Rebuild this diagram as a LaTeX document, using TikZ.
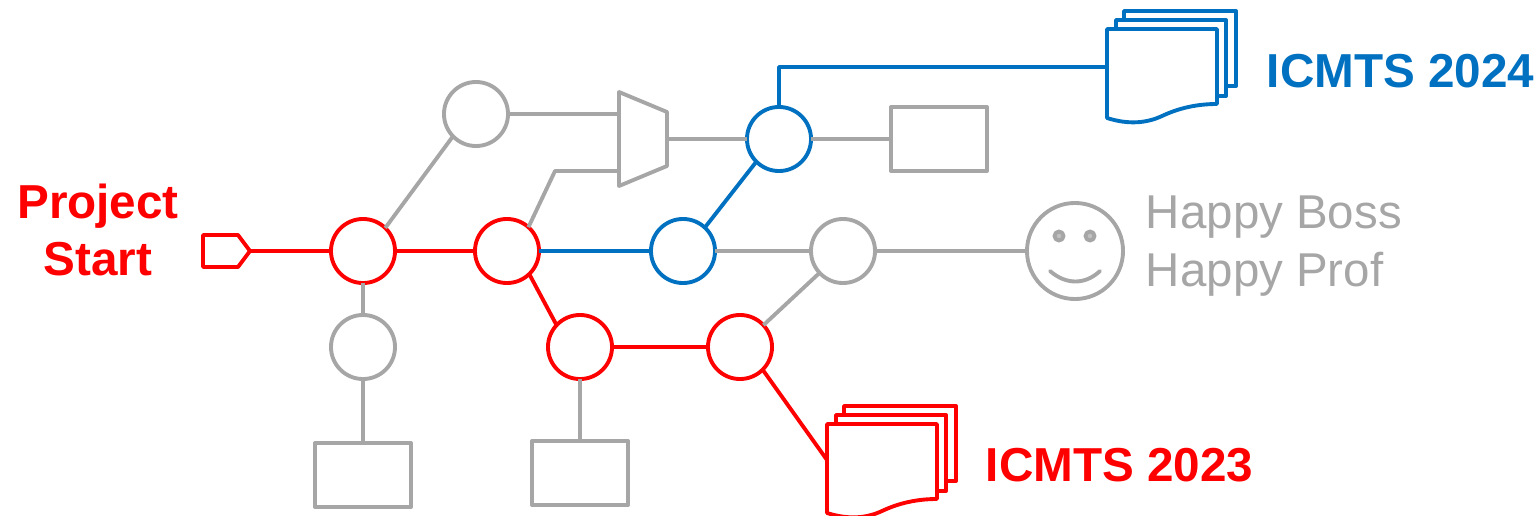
\documentclass[tikz,border=0pt]{standalone}
\usepackage{fontspec}
\setmainfont{Liberation Sans}
\usepackage{xcolor}
\definecolor{hwgray}{HTML}{A6A6A6}
\definecolor{hwblue}{HTML}{0070C0}
\definecolor{hwred}{HTML}{FF0000}
\tikzset{
	stage/.style={circle, draw, fill=white, minimum size=0.64cm, inner sep=0pt, outer sep=0pt},
	block/.style={rectangle, draw=hwgray, minimum width=0.96cm, minimum height=0.64cm, inner sep=0pt, outer sep=0pt},
	eye/.style={circle, draw=hwgray, fill=hwgray!70, minimum size=0.09cm, inner sep=0pt},
	caption/.style={font=\fontsize{13.5}{16.4}\selectfont, inner sep=0pt},
	boldcaption/.style={font=\fontsize{13.55}{16.4}\selectfont\bfseries, inner sep=0pt},
}
\newcommand{\paperstack}[3]{
	\begin{scope}[shift={(#2,#3)}, draw=#1, fill=white]
		\draw[fill=white] (17,-18) rectangle (129,57);
		\draw[fill=white] (9,-9) rectangle (119,67);
		\draw[fill=white] (0,0) -- (110,0) -- (110,75)
			.. controls (90,75) and (72,79) .. (55,87)
			.. controls (40,94) and (22,96) .. (0,89) -- cycle;
	\end{scope}
}

\begin{document}
\begin{tikzpicture}[x=0.01cm, y=-0.01cm, line width=1.1pt, line join=round]
	\useasboundingbox (0,0) rectangle (1540,515);

	% blocks on the grey paths
	\node[stage, draw=hwgray] (cache) at (476,114) {};
	\node[stage, draw=hwgray] (ldo) at (363,347) {};
	\node[stage, draw=hwgray] (merge) at (843,251) {};
	\node[block] (blocktop) at (939,139) {};
	\node[block] (blockleft) at (363,475) {};
	\node[block] (blockmid) at (580,473) {};

	% stages on the coloured paths
	\node[stage, draw=hwred] (first) at (363,251) {};
	\node[stage, draw=hwred] (second) at (507,251) {};
	\node[stage, draw=hwred] (lowleft) at (580,347) {};
	\node[stage, draw=hwred] (lowright) at (740,347) {};
	\node[stage, draw=hwblue] (upmid) at (683,251) {};
	\node[stage, draw=hwblue] (uptop) at (779,139) {};

	% start tag
	\draw[hwred] (203,235) -- (238,235) -- (250,251) -- (238,267) -- (203,267) -- cycle;
	\coordinate (tag) at (250,251);

	% mux
	\draw[hwgray] (619,92) -- (667,112) -- (667,166) -- (619,186) -- cycle;
	\coordinate (muxa) at (619,114);
	\coordinate (muxb) at (619,171);
	\coordinate (muxout) at (667,139);
	\coordinate (bend) at (555,171);

	% smiley
	\node[circle, draw=hwgray, minimum size=0.96cm, inner sep=0pt, outer sep=0pt] (smiley) at (1075,251) {};
	\node[eye] (eyeleft) at (1059,236) {};
	\node[eye] (eyeright) at (1090,236) {};
	\draw[hwgray, line cap=round] (1050,271) .. controls (1066,285) and (1085,285) .. (1100,271);

	% paper stacks
	\paperstack{hwblue}{1107}{29}
	\paperstack{hwred}{827}{424}
	\coordinate (bluein) at (1107,67);
	\coordinate (redin) at (827,460);
	\coordinate (blueup) at (779,67);

	% grey connectors
	\draw[hwgray] (first.46) -- (cache.224);
	\draw[hwgray] (first) -- (ldo);
	\draw[hwgray] (ldo) -- (blockleft);
	\draw[hwgray] (lowleft) -- (blockmid);
	\draw[hwgray] (cache) -- (muxa);
	\draw[hwgray] (second.48) -- (bend) -- (muxb);
	\draw[hwgray] (muxout) -- (uptop);
	\draw[hwgray] (uptop) -- (blocktop);
	\draw[hwgray] (upmid) -- (merge);
	\draw[hwgray] (merge) -- (smiley);
	\draw[hwgray] (lowright) -- (merge);

	% red connectors
	\draw[hwred] (tag) -- (first);
	\draw[hwred] (first) -- (second);
	\draw[hwred] (second.-46) -- (lowleft.137);
	\draw[hwred] (lowleft) -- (lowright);
	\draw[hwred] (lowright.-45) -- (redin);

	% blue connectors
	\draw[hwblue] (second) -- (upmid);
	\draw[hwblue] (upmid.47) -- (uptop.225);
	\draw[hwblue] (uptop) -- (blueup) -- (bluein);

	% labels
	\node[boldcaption, text=hwred, align=center] (startlabel) at (98,230) {Project\\Start};
	\node[caption, text=hwgray, align=left, anchor=west] (happylabel) at (1144,246) {Happy Boss\\Happy Prof};
	\node[boldcaption, text=hwblue, anchor=west] (bluelabel) at (1265,71) {ICMTS 2024};
	\node[boldcaption, text=hwred, anchor=west] (redlabel) at (984,465) {ICMTS 2023};
\end{tikzpicture}
\end{document}
